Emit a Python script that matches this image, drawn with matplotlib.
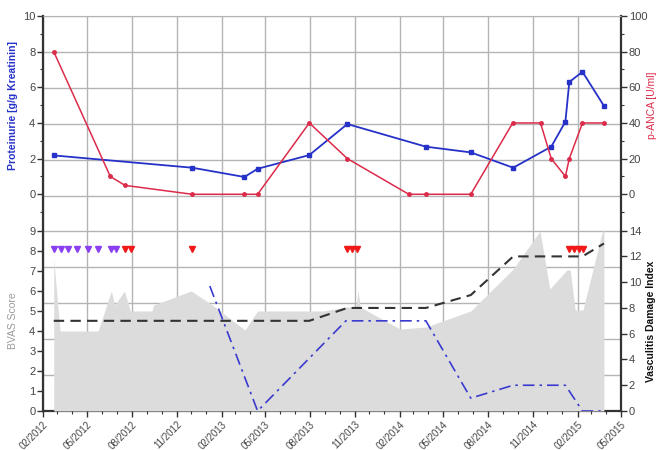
import numpy as np
import matplotlib
matplotlib.use("Agg")
import matplotlib.pyplot as plt
import matplotlib.dates as mdates

plt.rcParams['font.family'] = ['Liberation Sans', 'DejaVu Sans']

# Proteinurie (g/g Kreatinin), linke Achse oben
prot_dates = np.array(['2012-02-23', '2012-12-03', '2013-03-20', '2013-04-16', '2013-07-31',
                       '2013-10-17', '2014-03-27', '2014-06-27', '2014-09-22', '2014-12-09',
                       '2015-01-07', '2015-01-15', '2015-02-11', '2015-03-27'], dtype='datetime64[D]')
prot_vals = [2.18, 1.49, 0.97, 1.43, 2.2, 3.94, 2.67, 2.35, 1.49, 2.67, 4.07, 6.3, 6.87, 4.96]

# p-ANCA (U/ml), rechte Achse oben
anca_dates = np.array(['2012-02-23', '2012-06-18', '2012-07-18', '2012-12-03', '2013-03-20',
                       '2013-04-16', '2013-07-31', '2013-10-17', '2014-02-20', '2014-03-27',
                       '2014-06-27', '2014-09-21', '2014-11-17', '2014-12-09', '2015-01-07',
                       '2015-01-15', '2015-02-11', '2015-03-27'], dtype='datetime64[D]')
anca_vals = [80, 10, 5, 0, 0, 0, 40, 20, 0, 0, 0, 40, 40, 20, 10, 20, 40, 40]

# BVAS (graue Flaeche), linke Achse unten
bvas_dates = np.array(['2012-02-23', '2012-03-07', '2012-05-24', '2012-06-20', '2012-06-27',
                       '2012-07-17', '2012-07-29', '2012-09-11', '2012-09-15', '2012-12-01',
                       '2013-01-10', '2013-03-21', '2013-04-16', '2013-08-28', '2013-10-15',
                       '2013-11-04', '2013-11-08', '2013-11-12', '2014-02-02', '2014-03-27',
                       '2014-06-27', '2014-09-22', '2014-11-16', '2014-12-06', '2015-01-10',
                       '2015-01-17', '2015-01-27', '2015-02-12', '2015-03-24', '2015-03-27'],
                      dtype='datetime64[D]')
bvas_vals = [7.6, 4.0, 4.0, 6.0, 5.3, 6.0, 5.0, 5.0, 5.3, 6.0,
             5.35, 4.05, 5.0, 5.0, 5.2, 5.2, 6.05, 5.2, 4.1, 4.2,
             5.0, 7.1, 9.0, 6.1, 7.05, 7.05, 5.05, 5.05, 9.0, 9.0]

# Vasculitis Damage Index, rechte Achse unten
vdi_dates = np.array(['2012-02-23', '2013-07-31', '2013-10-17', '2014-03-27', '2014-06-27',
                      '2014-09-22', '2015-02-11', '2015-03-27'], dtype='datetime64[D]')
vdi_vals = [7, 7, 8, 8, 9, 12, 12, 13]

# blaue Strich-Punkt-Linie, rechte Achse unten
dash_dates = np.array(['2013-01-08', '2013-04-16', '2013-10-14', '2014-03-27', '2014-06-27',
                       '2014-09-22', '2015-01-07', '2015-02-11', '2015-03-27'], dtype='datetime64[D]')
dash_vals = [9.7, 0, 7, 7, 1, 2, 2, 0, 0]

# Therapie-Marker (Dreiecke)
purple_dates = np.array(['2012-02-23', '2012-03-08', '2012-03-23', '2012-04-11', '2012-05-03',
                         '2012-05-24', '2012-06-19', '2012-06-29'], dtype='datetime64[D]')
red_dates = np.array(['2012-07-19', '2012-07-31', '2012-12-03', '2013-10-17', '2013-10-26',
                      '2013-11-05', '2015-01-15', '2015-01-25', '2015-02-03', '2015-02-12'],
                     dtype='datetime64[D]')
marker_level = 8.1

x_start = np.datetime64('2012-02-01')
x_end = np.datetime64('2015-05-01')

fig = plt.figure(figsize=(6.6, 4.5), dpi=100)
L, W = 43 / 660, (621 - 43) / 660
px = lambda y: 1 - y / 450

quarter = mdates.MonthLocator(bymonth=[2, 5, 8, 11])
monthly = mdates.MonthLocator()
axcol = '#333333'

# Hintergrund mit Gitter
bg = fig.add_axes([L, px(411), W, (411 - 16) / 450])
bg.set_xlim(x_start, x_end)
bg.set_ylim(0, 11)
bg.set_yticks(range(12))
bg.xaxis.set_major_locator(quarter)
bg.grid(True, color='#b4b4b4', lw=1)
bg.tick_params(length=0, labelleft=False, labelbottom=False)
for s in ['left', 'right', 'bottom']:
    bg.spines[s].set_color(axcol)
    bg.spines[s].set_linewidth(1.6)
bg.spines['top'].set_color('#b4b4b4')

# oberes Panel
top = fig.add_axes([L, px(213), W, (213 - 16) / 450])
top.patch.set_alpha(0)
top.set_xlim(x_start, x_end)
top.set_ylim(-1.05, 10)
top.set_yticks(range(0, 11, 2))
top.set_yticks(range(-1, 10, 2), minor=True)
top.plot(prot_dates, prot_vals, color='#2631c8', lw=1.3, marker='s', ms=3.5, zorder=3)
top.set_xticks([])
top.set_ylabel('Proteinurie [g/g Kreatinin]', color='#2631c8', fontsize=7.5, fontweight='bold')
top.yaxis.set_label_coords(-0.043, 0.548)

top_r = top.twinx()
top_r.set_ylim(-10.5, 100)
top_r.set_yticks(range(0, 101, 20))
top_r.set_yticks(range(-10, 100, 20), minor=True)
top_r.plot(anca_dates, anca_vals, color='#dc2b4a', lw=1.1, marker='o', ms=2.5, zorder=2)
top_r.set_ylabel('p-ANCA [U/ml]', color='#dc2b4a', fontsize=7.5)
top_r.yaxis.set_label_coords(1.045, 0.548)

# unteres Panel
bot = fig.add_axes([L, px(411), W, (411 - 213) / 450])
bot.patch.set_alpha(0)
bot.set_xlim(x_start, x_end)
bot.set_ylim(0, 9.9)
bot.set_yticks(range(10))
bot.fill_between(bvas_dates, bvas_vals, 0, color='#dcdcdc', lw=0)
bot.plot(purple_dates, [marker_level] * len(purple_dates), 'v', color='#8a3ff0', ms=5, ls='none')
bot.plot(red_dates, [marker_level] * len(red_dates), 'v', color='#f01818', ms=5, ls='none')
bot.xaxis.set_major_locator(quarter)
bot.xaxis.set_minor_locator(monthly)
bot.xaxis.set_major_formatter(mdates.DateFormatter('%m/%Y'))
bot.set_ylabel('BVAS Score', color='#9a9a9a', fontsize=7.5)
bot.yaxis.set_label_coords(-0.043, 0.4545)

bot_r = bot.twinx()
bot_r.set_ylim(0, 15.37)
bot_r.set_yticks(range(0, 15, 2))
bot_r.plot(vdi_dates, vdi_vals, color='#333333', lw=1.5, ls=(0, (5, 3)))
bot_r.plot(dash_dates, dash_vals, color='#3a3ad0', lw=1.2, ls=(0, (7, 3, 1.5, 3)))
bot_r.set_ylabel('Vasculitis Damage Index', color='#111111', fontsize=7.5, fontweight='bold')
bot_r.yaxis.set_label_coords(1.043, 0.4545)

for a in [top, top_r, bot, bot_r]:
    for s in a.spines.values():
        s.set_visible(False)
    a.tick_params(axis='both', which='major', length=4, width=1, color=axcol,
                  labelsize=8, labelcolor='#444444', pad=1.5)
    a.tick_params(axis='both', which='minor', length=2, width=0.8, color=axcol)
bot.tick_params(axis='x', which='major', pad=2, labelsize=7)
for lab in bot.get_xticklabels():
    lab.set_rotation(45)
    lab.set_ha('right')
    lab.set_rotation_mode('anchor')

fig.savefig('out.png', dpi=100)
